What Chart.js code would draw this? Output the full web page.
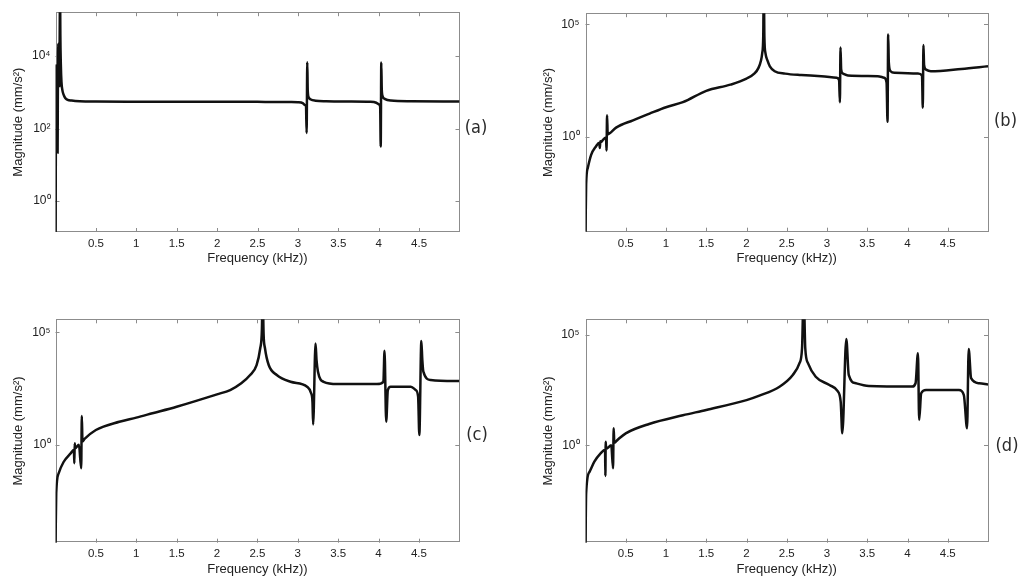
<!DOCTYPE html>
<html>
<head>
<meta charset="utf-8">
<script src="https://cdn.jsdelivr.net/npm/chart.js@4.4.1/dist/chart.umd.min.js"></script>
<style>
html,body{margin:0;padding:0;background:#fff;width:1024px;height:585px;overflow:hidden;}
canvas{position:absolute;}
</style>
</head>
<body>
<canvas id="ca" width="512" height="270" style="left:0;top:0"></canvas>
<canvas id="cb" width="512" height="270" style="left:512px;top:0"></canvas>
<canvas id="cc" width="512" height="285" style="left:0;top:300px"></canvas>
<canvas id="cd" width="512" height="285" style="left:512px;top:300px"></canvas>
<script>
// ---- data (frequency in kHz, magnitude in mm/s^2) ----
const freqA = [0,0.002,0.004,0.006,0.012,0.02,0.026,0.030,0.034,0.040,0.046,0.052,0.056,0.060,0.066,0.074,0.085,0.10,0.12,0.15,0.20,0.30,0.50,1.0,1.5,2.0,2.5,2.9,3.0,3.06,3.09,3.10,3.108,3.116,3.122,3.135,3.16,3.22,3.35,3.6,3.9,3.97,4.005,4.018,4.025,4.032,4.038,4.05,4.08,4.15,4.4,5.0];
const magA  = [0.05,0.5,20,5600,600,60,22,3000,22000,3000,1500,40000,1e6,40000,6000,1900,1150,860,700,620,590,565,555,552,550,548,545,538,530,500,440,420,75,6700,1100,720,630,585,565,555,545,515,460,400,32,6600,1200,760,650,590,565,555];

const freqB = [0,0.008,0.029,0.07,0.13,0.172,0.178,0.184,0.19,0.22,0.255,0.261,0.268,0.276,0.30,0.38,0.59,0.79,1.0,1.21,1.5,1.8,2.0,2.1,2.149,2.18,2.195,2.208,2.215,2.222,2.236,2.26,2.29,2.35,2.48,2.68,2.93,3.12,3.15,3.16,3.168,3.176,3.2,3.26,3.63,3.71,3.74,3.752,3.76,3.768,3.79,3.84,4.13,4.18,4.19,4.198,4.206,4.23,4.29,4.67,5.0];
const magB  = [5e-5,0.008,0.043,0.16,0.38,0.55,0.32,0.65,0.58,0.76,0.95,0.25,9.1,1.3,1.45,2.6,5.5,10.7,21,35,112,210,390,660,1170,2500,5200,30000,1e7,30000,5200,2500,1380,830,650,560,500,430,340,35,9500,1000,650,540,500,430,260,4.7,36000,2000,830,710,660,540,20,12000,1600,980,830,1050,1380];

const freqC = [0,0.009,0.04,0.10,0.19,0.228,0.233,0.238,0.243,0.29,0.318,0.326,0.334,0.36,0.5,0.79,1.0,1.2,1.5,2.0,2.163,2.3,2.41,2.49,2.535,2.556,2.564,2.577,2.594,2.64,2.74,2.91,3.115,3.165,3.182,3.19,3.22,3.232,3.25,3.32,3.49,3.98,4.06,4.074,4.095,4.115,4.15,4.4,4.46,4.49,4.505,4.53,4.542,4.555,4.645,5.0];
const magC  = [3e-5,0.007,0.054,0.17,0.42,0.6,0.15,1.15,0.7,1.0,0.089,19,1.4,1.8,4.5,10.5,16,25,49,174,270,540,1260,3500,19500,150000,1e7,80000,19500,3500,1260,630,380,195,80,8,32000,6000,1780,630,500,500,630,15000,10.5,270,380,380,270,137,2.7,41000,6000,1780,760,680];

const freqD = [0,0.008,0.05,0.11,0.19,0.243,0.247,0.251,0.256,0.32,0.342,0.35,0.358,0.4,0.5,0.79,1.21,1.5,2.0,2.16,2.41,2.575,2.657,2.69,2.71,2.73,2.765,2.86,3.03,3.13,3.17,3.19,3.24,3.27,3.36,3.52,4.06,4.10,4.13,4.145,4.17,4.23,4.64,4.70,4.74,4.76,4.79,4.89,5.0];
const magD  = [3e-5,0.0068,0.063,0.18,0.44,0.63,0.041,1.45,0.69,1.0,0.091,5.9,1.3,1.8,3.5,9.3,23,40,112,178,455,1550,5200,25000,1e7,25000,5200,1290,540,290,95,3.5,66000,1550,650,490,460,650,15000,14,230,320,320,190,5.9,23000,1100,650,575];

const xTickValues = [0.5,1,1.5,2,2.5,3,3.5,4,4.5];
const xTickLabels = ['0.5','1','1.5','2','2.5','3','3.5','4','4.5'];
const yTickValuesA = [1,100,10000];
const yTickLabelsA = ['10\u2070','10\u00B2','10\u2074'];
const yTickValuesBCD = [1,100000];
const yTickLabelsBCD = ['10\u2070','10\u2075'];
const panelLabels = ['(a)','(b)','(c)','(d)'];
const xTitle = 'Frequency (kHz))';
const yTitle = 'Magnitude (mm/s\u00B2)';

const F = "'Liberation Sans', Arial, sans-serif";
const FN = "'Liberation Sans Narrow', 'DejaVu Sans Condensed', 'Liberation Sans', sans-serif";

const framePlugin = {
  id: 'frame',
  beforeDatasetsDraw(chart, args, opts) {
    const {ctx, chartArea: a, scales: {x, y}} = chart;
    ctx.save();
    ctx.strokeStyle = '#8c8c8c';
    ctx.lineWidth = 1;
    ctx.strokeRect(Math.round(a.left) + 0.5, Math.round(a.top) + 0.5,
                   Math.round(a.right - a.left) - 1, Math.round(a.bottom - a.top) - 1);
    ctx.beginPath();
    const tl = 4;
    x.ticks.forEach(t => {
      const px = Math.round(x.getPixelForValue(t.value)) + 0.5;
      ctx.moveTo(px, a.bottom); ctx.lineTo(px, a.bottom - tl);
      ctx.moveTo(px, a.top); ctx.lineTo(px, a.top + tl);
    });
    y.ticks.forEach(t => {
      const py = Math.round(y.getPixelForValue(t.value)) + 0.5;
      ctx.moveTo(a.left, py); ctx.lineTo(a.left + tl, py);
      ctx.moveTo(a.right, py); ctx.lineTo(a.right - tl, py);
    });
    ctx.stroke();
    ctx.restore();
  },
  afterDraw(chart, args, opts) {
    const ctx = chart.ctx;
    ctx.save();
    ctx.fillStyle = '#2a2a2a';
    ctx.font = '18px ' + FN;
    ctx.textAlign = 'center';
    ctx.textBaseline = 'middle';
    ctx.fillText(opts.text, opts.x, opts.y);
    ctx.restore();
  }
};

function panel(id, xs, ys, yMin, yMax, yVals, yLabels, label, L) {
  new Chart(document.getElementById(id), {
    type: 'line',
    data: {
      datasets: [{
        data: xs.map((x, i) => ({x: x, y: ys[i]})),
        borderColor: '#111',
        borderWidth: 2.5,
        pointRadius: 0,
        fill: false,
        cubicInterpolationMode: 'monotone',
        clip: 0
      }]
    },
    options: {
      responsive: false,
      animation: false,
      events: [],
      layout: {padding: {left: 0, right: L.pr, top: L.pt, bottom: 0}},
      plugins: {
        legend: {display: false},
        tooltip: {enabled: false},
        frame: {text: label, x: L.lx, y: L.ly}
      },
      scales: {
        x: {
          type: 'linear', min: 0, max: 5, position: 'bottom',
          grid: {display: false, drawTicks: false},
          border: {display: false},
          afterBuildTicks: s => { s.ticks = xTickValues.map(v => ({value: v})); },
          afterFit: s => { s.height = L.xh; },
          ticks: {
            callback: v => xTickLabels[xTickValues.indexOf(v)],
            padding: L.xp, autoSkip: false, maxRotation: 0,
            font: {family: F, size: 11.5}, color: '#222'
          },
          title: {display: true, text: xTitle, font: {family: F, size: 13}, color: '#222',
                  padding: {top: 0, bottom: L.xtp}}
        },
        y: {
          type: 'logarithmic', min: yMin, max: yMax, position: 'left',
          grid: {display: false, drawTicks: false},
          border: {display: false},
          afterBuildTicks: s => { s.ticks = yVals.map(v => ({value: v})); },
          afterFit: s => { s.width = L.yw; },
          ticks: {
            callback: v => yLabels[yVals.indexOf(v)],
            padding: L.yp, autoSkip: false,
            font: {family: F, size: 12}, color: '#222'
          },
          title: {display: true, text: yTitle, font: {family: F, size: 13}, color: '#222',
                  padding: {top: L.ytp, bottom: 0}}
        }
      }
    },
    plugins: [framePlugin]
  });
}

panel('ca', freqA, magA, 0.14, 1.62e5, yTickValuesA, yTickLabelsA, panelLabels[0],
  {pr: 52.5, pt: 10, xh: 38, yw: 55.5, xp: 5, xtp: 4, yp: 5, ytp: 10.3, lx: 476, ly: 128});
panel('cb', freqB, magB, 6.2e-5, 3.14e5, yTickValuesBCD, yTickLabelsBCD, panelLabels[1],
  {pr: 36, pt: 9.3, xh: 38.3, yw: 73.5, xp: 5, xtp: 4, yp: 6, ytp: 28.8, lx: 493.5, ly: 121});
panel('cc', freqC, magC, 4.37e-5, 3.79e5, yTickValuesBCD, yTickLabelsBCD, panelLabels[2],
  {pr: 52.7, pt: 19.3, xh: 42.3, yw: 55.5, xp: 4.5, xtp: 8.2, yp: 5, ytp: 10.5, lx: 477, ly: 135});
panel('cd', freqD, magD, 3.85e-5, 5.15e5, yTickValuesBCD, yTickLabelsBCD, panelLabels[3],
  {pr: 36, pt: 19.3, xh: 42.3, yw: 73.5, xp: 4.5, xtp: 7.9, yp: 6, ytp: 28.9, lx: 495, ly: 146.5});
</script>
</body>
</html>
